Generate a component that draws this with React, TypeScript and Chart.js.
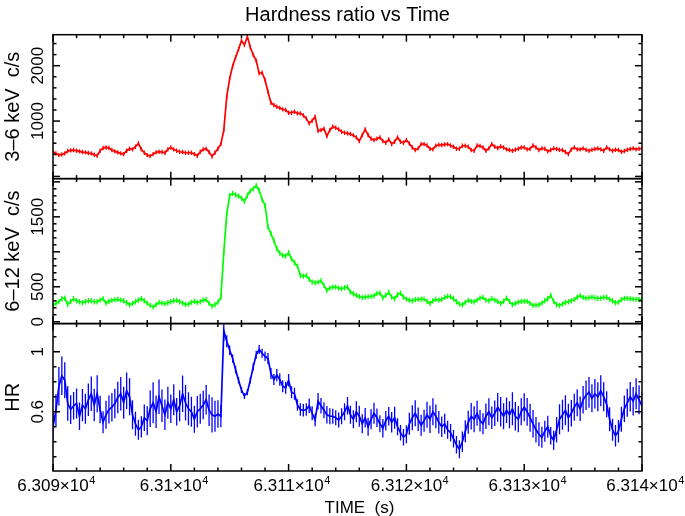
import React, { useEffect, useRef } from "react";
import { Chart, registerables } from "chart.js";

Chart.register(...registerables);

// ---------- data ----------
const T_START = 63090; // s, first bin
const BIN_WIDTH = 0.25; // s

// 3-6 keV count rate (c/s)
const RATE_3_6 = [
  446, 415, 385, 397, 416, 458, 470, 476, 464, 452, 440, 434, 422, 416, 391, 373, 464, 512, 524, 512,
  476, 452, 434, 416, 403, 464, 500, 488, 536, 596, 488, 428, 385, 367, 403, 434, 446, 440, 428, 488,
  524, 488, 464, 446, 440, 428, 428, 428, 403, 373, 446, 488, 500, 440, 361, 428, 500, 584, 837, 1440,
  1772, 1995, 2151, 2296, 2453, 2374, 2525, 2332, 2194, 2091, 1862, 1874, 1741, 1530, 1332, 1289, 1259, 1235, 1211, 1199,
  1151, 1151, 1169, 1139, 1139, 1103, 1048, 958, 1006, 1078, 825, 837, 862, 729, 837, 898, 880, 850, 807, 789,
  777, 765, 741, 705, 638, 747, 850, 747, 681, 657, 681, 705, 638, 608, 669, 584, 626, 705, 626, 608,
  657, 596, 524, 476, 506, 584, 584, 560, 500, 488, 554, 572, 566, 578, 584, 560, 536, 500, 500, 554,
  554, 536, 476, 464, 560, 548, 524, 464, 506, 584, 536, 512, 542, 524, 488, 476, 464, 482, 500, 524,
  524, 488, 500, 560, 524, 476, 506, 500, 452, 476, 506, 494, 482, 476, 440, 403, 488, 524, 488, 488,
  506, 482, 464, 482, 494, 506, 488, 464, 524, 488, 464, 482, 476, 446, 458, 482, 494, 506, 488, 500,
  506,
];

// 6-12 keV count rate (c/s)
const RATE_6_12 = [
  234, 262, 291, 329, 339, 248, 291, 329, 300, 286, 272, 286, 300, 300, 286, 286, 310, 329, 267, 291,
  305, 315, 320, 310, 300, 272, 243, 262, 286, 310, 329, 300, 262, 234, 210, 243, 277, 267, 258, 272,
  286, 300, 305, 286, 267, 248, 253, 277, 291, 277, 286, 310, 315, 262, 224, 243, 281, 348, 996, 1543,
  1805, 1834, 1815, 1796, 1767, 1720, 1805, 1872, 1900, 1948, 1877, 1748, 1662, 1353, 1258, 1162, 1043, 981, 948, 938,
  986, 900, 843, 796, 662, 653, 662, 605, 567, 558, 567, 586, 520, 448, 481, 496, 496, 481, 472, 486,
  496, 424, 400, 377, 358, 348, 353, 358, 362, 372, 405, 410, 343, 377, 420, 353, 329, 386, 410, 353,
  324, 310, 300, 315, 320, 324, 324, 291, 262, 300, 320, 310, 320, 348, 362, 358, 329, 286, 253, 243,
  277, 305, 291, 286, 310, 339, 348, 310, 300, 329, 310, 291, 262, 291, 339, 291, 243, 262, 281, 291,
  296, 291, 262, 234, 238, 243, 267, 300, 329, 377, 291, 243, 234, 253, 277, 286, 300, 315, 353, 372,
  348, 339, 343, 353, 343, 334, 339, 348, 348, 320, 300, 272, 281, 315, 334, 334, 329, 324, 320, 320,
  320,
];

// hardness ratio (6-12 keV / 3-6 keV)
const HARDNESS = [
  0.50, 0.61, 0.77, 0.84, 0.81, 0.655, 0.615, 0.64, 0.655, 0.57, 0.645, 0.62, 0.68, 0.72, 0.645, 0.72, 0.615, 0.53, 0.58, 0.615,
  0.63, 0.655, 0.695, 0.72, 0.66, 0.74, 0.70, 0.58, 0.52, 0.48, 0.50, 0.56, 0.54, 0.62, 0.66, 0.60, 0.70, 0.64, 0.58, 0.66,
  0.62, 0.68, 0.60, 0.64, 0.72, 0.66, 0.62, 0.60, 0.55, 0.60, 0.62, 0.645, 0.68, 0.61, 0.58, 0.57, 0.585, 0.57, 1.14, 1.07,
  1.01, 0.955, 0.88, 0.81, 0.745, 0.705, 0.73, 0.81, 0.90, 0.98, 1.015, 0.99, 0.97, 0.955, 0.855, 0.815, 0.845, 0.815, 0.77, 0.76,
  0.81, 0.73, 0.72, 0.645, 0.615, 0.61, 0.615, 0.64, 0.59, 0.545, 0.67, 0.64, 0.61, 0.58, 0.57, 0.57, 0.56, 0.545, 0.57, 0.60,
  0.64, 0.58, 0.55, 0.60, 0.57, 0.52, 0.56, 0.50, 0.55, 0.59, 0.56, 0.52, 0.49, 0.54, 0.57, 0.53, 0.56, 0.50, 0.46, 0.43,
  0.45, 0.52, 0.56, 0.59, 0.55, 0.51, 0.54, 0.58, 0.55, 0.60, 0.57, 0.53, 0.50, 0.52, 0.48, 0.46, 0.42, 0.38, 0.35, 0.40,
  0.47, 0.53, 0.57, 0.55, 0.59, 0.54, 0.52, 0.57, 0.60, 0.56, 0.59, 0.63, 0.60, 0.57, 0.61, 0.58, 0.62, 0.57, 0.55, 0.60,
  0.63, 0.60, 0.56, 0.52, 0.48, 0.45, 0.43, 0.47, 0.50, 0.44, 0.41, 0.48, 0.55, 0.58, 0.61, 0.56, 0.59, 0.63, 0.66, 0.62,
  0.68, 0.71, 0.73, 0.69, 0.72, 0.70, 0.74, 0.70, 0.65, 0.55, 0.48, 0.44, 0.47, 0.55, 0.62, 0.66, 0.70, 0.67, 0.72, 0.68,
  0.64,
];

const ERR_3_6 = 40; // c/s, 1-sigma
const ERR_6_12 = 38; // c/s, 1-sigma

// axes / ticks
const X_MIN = 63090;
const X_MAX = 63140;
const X_MAJOR = [63090, 63100, 63110, 63120, 63130, 63140];
const X_LABELS = ["6.309", "6.31", "6.311", "6.312", "6.313", "6.314"];
const X_MINOR_STEP = 2;

const Y1_RANGE = [-40, 2560];
const Y1_MAJOR = [0, 1000, 2000];
const Y1_LABELS = [1000, 2000];
const Y1_MINOR_STEP = 200;

const Y2_RANGE = [-26, 2046];
const Y2_MAJOR = [0, 500, 1000, 1500, 2000];
const Y2_LABELS = [0, 500, 1500];
const Y2_MINOR_STEP = 100;

const HR_RANGE = [0.205, 1.188];
const HR_MAJOR = [0.2, 0.6, 1.0];
const HR_LABELS = [0.6, 1];
const HR_MINOR_STEP = 0.1;

// ---------- helpers ----------
const FONT = '"Liberation Sans", Arial, Helvetica, sans-serif';
const times = RATE_3_6.map((_, i) => T_START + i * BIN_WIDTH);
const toPts = (arr: number[]) => arr.map((v, i) => ({ x: times[i], y: v }));
const hrErr = HARDNESS.map((h, i) => {
  const g = RATE_6_12[i];
  const r = RATE_3_6[i];
  return h * Math.sqrt((ERR_6_12 / g) ** 2 + (ERR_3_6 / r) ** 2);
});
const ERRORS: number[][] = [
  hrErr,
  RATE_6_12.map(() => ERR_6_12),
  RATE_3_6.map(() => ERR_3_6),
];

const TICKS: Record<string, { major: number[]; labels: number[]; step: number }> = {
  y1: { major: Y1_MAJOR, labels: Y1_LABELS, step: Y1_MINOR_STEP },
  y2: { major: Y2_MAJOR, labels: Y2_LABELS, step: Y2_MINOR_STEP },
  yHR: { major: HR_MAJOR, labels: HR_LABELS, step: HR_MINOR_STEP },
};

const errorBarPlugin = {
  id: "errorBars",
  afterDatasetsDraw(chart: any) {
    const ctx = chart.ctx;
    const area = chart.chartArea;
    chart.data.datasets.forEach((ds: any, i: number) => {
      const meta = chart.getDatasetMeta(i);
      const ys = chart.scales[meta.yAxisID];
      const errs = ERRORS[i];
      ctx.save();
      ctx.beginPath();
      ctx.rect(area.left, ys.top, area.right - area.left, ys.bottom - ys.top);
      ctx.clip();
      ctx.strokeStyle = ds.borderColor;
      ctx.lineWidth = 1.3;
      ctx.beginPath();
      meta.data.forEach((pt: any, j: number) => {
        const v = ds.data[j].y;
        const e = errs[j];
        ctx.moveTo(pt.x, ys.getPixelForValue(v - e));
        ctx.lineTo(pt.x, ys.getPixelForValue(v + e));
      });
      ctx.stroke();
      ctx.restore();
    });
  },
};

const framePlugin = {
  id: "frames",
  afterDraw(chart: any) {
    const ctx = chart.ctx;
    const xs = chart.scales.x;
    const L = chart.chartArea.left;
    const R = chart.chartArea.right;
    ctx.save();
    ctx.strokeStyle = "#000";
    ctx.fillStyle = "#000";
    ctx.lineWidth = 1.5;
    const seg = (x1: number, y1: number, x2: number, y2: number) => {
      ctx.beginPath();
      ctx.moveTo(x1, y1);
      ctx.lineTo(x2, y2);
      ctx.stroke();
    };
    for (const id of ["y1", "y2", "yHR"]) {
      const ys = chart.scales[id];
      const T = ys.top;
      const B = ys.bottom;
      ctx.strokeRect(L, T, R - L, B - T);
      const nx = Math.round((X_MAX - X_MIN) / X_MINOR_STEP);
      for (let k = 0; k <= nx; k++) {
        const v = X_MIN + k * X_MINOR_STEP;
        const px = xs.getPixelForValue(v);
        const major = X_MAJOR.some((m) => Math.abs(m - v) < 1e-6);
        const len = major ? 7 : 3.5;
        seg(px, T, px, T + len);
        seg(px, B, px, B - len);
      }
      const cfg = TICKS[id];
      const start = Math.ceil(ys.min / cfg.step - 1e-6);
      const end = Math.floor(ys.max / cfg.step + 1e-6);
      for (let k = start; k <= end; k++) {
        const v = k * cfg.step;
        const py = ys.getPixelForValue(v);
        const major = cfg.major.some((m) => Math.abs(m - v) < 1e-6);
        const len = major ? 7 : 3.5;
        seg(L, py, L + len, py);
        seg(R, py, R - len, py);
      }
      ctx.font = `17px ${FONT}`;
      ctx.textAlign = "center";
      ctx.textBaseline = "middle";
      for (const v of cfg.labels) {
        const py = ys.getPixelForValue(v);
        ctx.save();
        ctx.translate(38, py);
        ctx.rotate(-Math.PI / 2);
        ctx.fillText(String(v), 0, 0);
        ctx.restore();
      }
    }
    // x labels with superscript exponent (mantissa centred on the tick)
    ctx.textBaseline = "alphabetic";
    ctx.textAlign = "left";
    X_MAJOR.forEach((v, i) => {
      const px = xs.getPixelForValue(v);
      const main = `${X_LABELS[i]}\u00d710`;
      ctx.font = `17px ${FONT}`;
      const wm = ctx.measureText(main).width;
      const x0 = px - wm / 2;
      ctx.fillText(main, x0, 491);
      ctx.font = `11px ${FONT}`;
      ctx.fillText("4", x0 + wm + 0.5, 484);
    });
    // x axis title
    ctx.font = `17px ${FONT}`;
    ctx.textAlign = "center";
    ctx.fillText("TIME  (s)", (L + R) / 2 + 12, 513);
    ctx.restore();
  },
};

export default function App() {
  const ref = useRef<HTMLCanvasElement>(null);
  useEffect(() => {
    const lineDs = (label: string, data: number[], color: string, axis: string) => ({
      label,
      data: toPts(data),
      yAxisID: axis,
      borderColor: color,
      backgroundColor: color,
      borderWidth: 1.7,
      pointRadius: 0,
      tension: 0,
      fill: false,
    });
    const hidden = { display: false };
    const yAxis = (weight: number, range: number[], title: string) => ({
      type: "linear",
      position: "left",
      stack: "panels",
      stackWeight: weight,
      min: range[0],
      max: range[1],
      grid: hidden,
      border: hidden,
      ticks: hidden,
      title: {
        display: true,
        text: title,
        color: "#000",
        font: { family: FONT, size: 20 },
        padding: { top: 1, bottom: 0 },
      },
      afterFit: (s: any) => {
        s.width = 53;
      },
    });
    const chart = new Chart(ref.current as HTMLCanvasElement, {
      type: "line",
      data: {
        datasets: [
          lineDs("HR", HARDNESS, "#0000ff", "yHR"),
          lineDs("6-12 keV", RATE_6_12, "#00ff00", "y2"),
          lineDs("3-6 keV", RATE_3_6, "#ff0000", "y1"),
        ],
      },
      options: {
        animation: false,
        responsive: false,
        devicePixelRatio: 1,
        layout: { padding: { top: 0, right: 43, left: 0, bottom: 0 } },
        plugins: {
          legend: { display: false },
          tooltip: { enabled: false },
          title: {
            display: true,
            text: "Hardness ratio vs Time",
            fullSize: false,
            color: "#000",
            font: { family: FONT, size: 20, weight: "normal" },
            padding: { top: 3, bottom: 7.7 },
          },
        },
        scales: {
          x: {
            type: "linear",
            min: X_MIN,
            max: X_MAX,
            grid: hidden,
            border: hidden,
            ticks: hidden,
            afterFit: (s: any) => {
              s.height = 45;
            },
          },
          yHR: yAxis(147.5, HR_RANGE, "HR"),
          y2: yAxis(145, Y2_RANGE, "6\u201312 keV  c/s"),
          y1: yAxis(144, Y1_RANGE, "3\u20136 keV  c/s"),
        },
      } as any,
      plugins: [errorBarPlugin, framePlugin],
    });
    return () => chart.destroy();
  }, []);
  return (
    <div style={{ position: "absolute", left: 0, top: 0, width: 685, height: 516, background: "#fff" }}>
      <canvas ref={ref} width={685} height={516} style={{ display: "block", width: 685, height: 516 }} />
    </div>
  );
}
